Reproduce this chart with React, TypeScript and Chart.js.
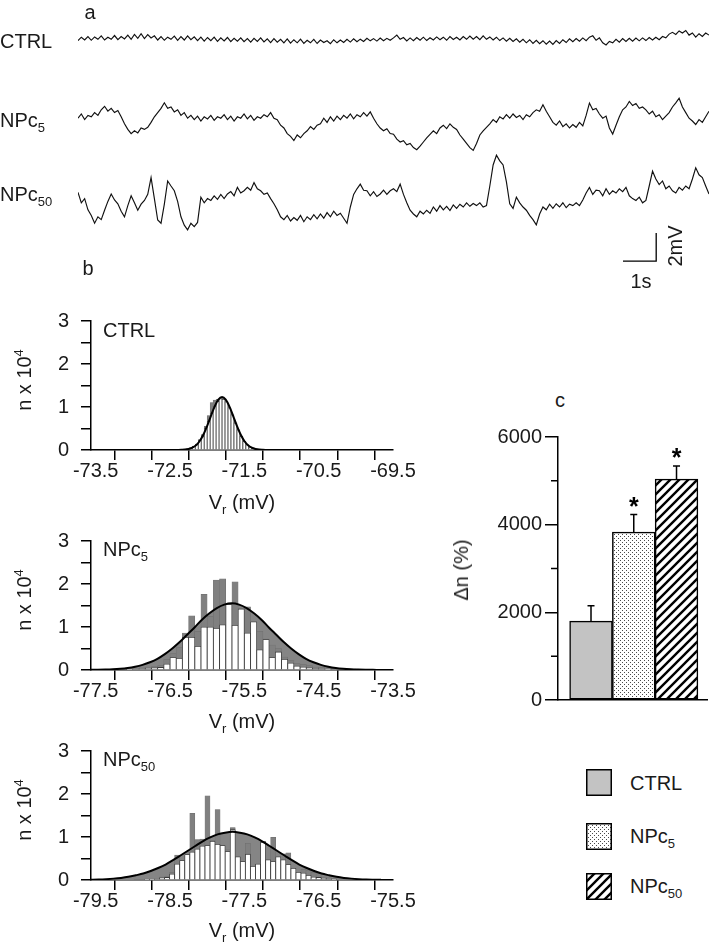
import React, { useEffect, useRef } from 'react';
import { Chart, registerables } from 'chart.js';

Chart.register(...registerables);

const FONT = '"Liberation Sans", Arial, Helvetica, sans-serif';
Chart.defaults.font.family = FONT;
Chart.defaults.font.size = 20;
Chart.defaults.color = '#1a1a1a';

// ---------------- Panel a : membrane potential traces (mV, sampled every 0.1 s) ----------------
const SAMPLE_DT = 0.1;
const TRACE_SECONDS = 19;

const TRACE_CTRL = [
  -0.05, 0.2, 0.0, 0.25, -0.02, 0.22, 0.05, 0.3, 0.0, 0.2,
  0.05, 0.32, 0.02, 0.25, 0.08, 0.35, 0.05, 0.4, 0.12, 0.45,
  0.1, 0.38, 0.15, 0.3, 0.0, 0.25, -0.02, 0.2, 0.05, 0.28,
  -0.02, 0.25, 0.0, 0.3, 0.02, 0.22, -0.05, 0.2, -0.08, 0.18,
  -0.05, 0.2, -0.1, 0.15, -0.06, 0.18, -0.12, 0.12, -0.08, 0.16,
  -0.12, 0.1, -0.15, 0.12, -0.1, 0.15, -0.14, 0.08, -0.18, 0.1,
  -0.15, 0.05, -0.2, 0.08, -0.22, 0.02, -0.2, 0.06, -0.24, -0.02,
  -0.2, 0.04, -0.25, 0.0, -0.18, -0.05, -0.26, 0.02, -0.2, 0.0,
  -0.18, 0.05, -0.15, 0.08, -0.12, 0.06, -0.1, 0.12, -0.06, 0.1,
  -0.08, 0.14, -0.05, 0.12, -0.02, 0.15, 0.35, 0.05, 0.18, -0.06,
  0.15, -0.05, 0.18, -0.02, 0.2, -0.04, 0.16, 0.0, 0.22, 0.02,
  0.2, -0.02, 0.24, 0.04, 0.2, 0.0, 0.25, 0.05, 0.28, 0.06,
  0.25, 0.02, 0.3, 0.05, 0.22, 0.0, 0.2, -0.04, 0.15, -0.08,
  0.12, -0.1, 0.08, -0.16, 0.05, -0.2, 0.02, -0.24, -0.02, -0.26,
  -0.05, -0.3, -0.08, -0.32, -0.04, -0.25, 0.02, -0.18, 0.08, -0.12,
  0.1, -0.08, 0.15, -0.05, 0.2, 0.3, -0.02, 0.15, -0.2, -0.35,
  -0.1, -0.2, 0.05, -0.15, 0.1, -0.1, 0.12, -0.08, 0.14, -0.06,
  0.15, -0.04, 0.18, 0.0, 0.2, 0.02, 0.25, 0.15, 0.42, 0.55,
  0.4, 0.65, 0.5, 0.68, 0.35, 0.5, 0.2, 0.45, 0.25, 0.5,
  0.35,
];

const TRACE_NPC5 = [
  0.2, 0.5, 0.1, 0.4, 0.3, 0.6, 0.4, 0.8, 1.05, 0.7,
  0.9, 0.6, 0.75, 0.3, -0.2, -0.6, -0.9, -0.7, -0.85, -0.5,
  -0.6, -0.45, -0.1, 0.3, 0.6, 0.9, 1.3, 0.9, 1.0, 0.65,
  0.8, 0.4, 0.6, 0.2, 0.4, 0.1, 0.35, 0.0, 0.3, 0.15,
  0.4, 0.05, 0.3, 0.2, 0.45, 0.1, 0.35, 0.0, 0.3, 0.2,
  0.5, 0.15, 0.4, 0.05, 0.3, 0.2, 0.45, 0.3, 0.6, 0.2,
  0.1, -0.3, -0.5, -0.9, -1.1, -1.4, -1.0, -1.2, -0.9, -0.7,
  -0.4, -0.6, -0.3, -0.2, 0.2, -0.1, 0.3, 0.0, 0.35, 0.1,
  0.4, 0.2, 0.5, 0.15, 0.45, 0.3, 0.6, 0.35, 0.65, 0.2,
  -0.2, -0.5, -0.7, -0.55, -0.9, -0.95, -1.3, -1.5, -1.4, -1.7,
  -1.6, -1.9, -2.05, -1.8, -1.5, -1.2, -0.95, -0.7, -0.9, -0.5,
  -0.3, -0.55, -0.2, -0.45, -0.6, -1.0, -1.3, -1.6, -1.9, -2.1,
  -1.6, -1.0, -0.7, -0.45, -0.2, 0.1, -0.1, 0.3, 0.15, 0.45,
  0.2, 0.5, 0.25, 0.4, 0.1, 0.45, 0.3, 0.6, 0.8, 0.7,
  1.16, 0.7, 0.3, -0.1, -0.3, 0.0, -0.4, -0.2, -0.5, -0.25,
  -0.45, -0.1, -0.35, 0.4, 1.28, 0.8, 0.9, 0.5, 0.2, 0.35,
  -0.5, -0.93, -0.3, 0.3, 0.8, 1.0, 1.4, 1.1, 1.25, 0.9,
  1.0, 0.8, 0.5, 0.7, 0.3, 0.45, 0.1, 0.35, 0.6, 1.0,
  1.3, 1.63, 1.0, 0.6, 0.2, 0.0, -0.25, 0.1, -0.1, 0.3,
  0.7,
];

const TRACE_NPC50 = [
  1.05, 0.3, 0.6, -0.2, -0.6, -1.16, -0.7, -0.9, -0.23, 0.4,
  0.93, 0.5, 0.23, -0.3, -0.7, 0.1, 0.8, 0.3, -0.23, 0.2,
  0.47, 0.9, 2.1, 0.6, -0.93, -1.16, 0.2, 1.86, 1.5, 1.16,
  0.4, -0.7, -1.3, -1.63, -1.16, -1.4, -1.1, 0.7, 0.3, 0.6,
  0.47, 0.8, 0.55, 0.9, 0.6, 0.93, 1.1, 0.8, 1.4, 1.0,
  1.16, 1.4, 1.2, 1.74, 1.3, 1.16, 0.9, 1.0, 0.6, 0.23,
  -0.2, -0.7, -0.9, -0.6, -1.0, -0.75, -0.95, -0.6, -1.05, -0.7,
  -0.9, -0.55, -0.85, -0.5, -0.8, -0.4, -0.7, -0.3, -0.6, -0.45,
  -0.8, -1.16, 0.0, 0.9, 1.3, 1.63, 1.2, 1.16, 0.8, 1.1,
  0.75, 0.93, 1.2, 0.9, 1.16, 1.3, 1.1, 1.63, 0.9, 0.3,
  -0.23, -0.5, -0.7, -0.3, -0.5, -0.23, -0.45, 0.0, -0.3, 0.1,
  -0.2, 0.05, -0.25, 0.15, -0.1, 0.2, 0.0, 0.3, 0.05, 0.25,
  0.1, 0.3, 0.0, 0.1, 1.5, 3.0, 3.7, 3.3, 3.0, 1.8,
  0.23, -0.1, 0.7, 0.3, 0.0, -0.23, -0.6, -0.9, -1.28, -0.5,
  0.0, -0.2, 0.2, -0.1, 0.23, 0.0, 0.3, -0.05, 0.2, 0.1,
  0.3, 0.1, 0.5, 1.0, 1.4, 0.9, 1.2, 1.16, 0.8, 1.3,
  0.9, 1.16, 1.0, 1.3, 1.1, 1.4, 0.8, 0.6, 0.47, 0.7,
  0.3, 0.47, 1.5, 2.56, 2.0, 1.6, 1.86, 1.3, 1.5, 1.16,
  1.0, 1.4, 1.2, 1.5, 1.3, 2.0, 2.8, 2.3, 2.1, 1.5,
  0.93,
];

const SCALE_BAR = { t0: 16.41, seconds: 1, v0: -3.86, mv: 2 };

// ---------------- Panel b : histograms (n x 10^4 per bin of Vr, mV) ----------------
const HIST_Y_TICKS = [0, 0.5, 1, 1.5, 2, 2.5, 3];
const HIST_Y_LABELS = [0, 1, 2, 3];

const CTRL_X_TICKS = [-73.5, -73, -72.5, -72, -71.5, -71, -70.5, -70, -69.5];
const CTRL_X_LABELS = [-73.5, -72.5, -71.5, -70.5, -69.5];
const CTRL_BINS = [-72.30, -72.26, -72.22, -72.18, -72.14, -72.10, -72.06, -72.02, -71.98, -71.94, -71.90, -71.86, -71.82, -71.78, -71.74, -71.70, -71.66, -71.62, -71.58, -71.54, -71.50, -71.46, -71.42, -71.38, -71.34, -71.30];
const CTRL_GRAY = [0.01, 0.03, 0.05, 0.09, 0.14, 0.24, 0.36, 0.55, 0.80, 1.10, 1.16, 1.18, 1.16, 1.20, 1.10, 0.96, 0.80, 0.62, 0.45, 0.31, 0.19, 0.11, 0.06, 0.03, 0.02, 0.01];
const CTRL_WHITE = [0.01, 0.02, 0.04, 0.08, 0.12, 0.22, 0.31, 0.50, 0.66, 0.86, 1.02, 1.13, 1.19, 1.18, 1.12, 0.98, 0.82, 0.63, 0.47, 0.32, 0.20, 0.12, 0.07, 0.04, 0.02, 0.01];
const CTRL_FIT_X = [-72.40, -72.35, -72.30, -72.25, -72.20, -72.15, -72.10, -72.05, -72.00, -71.95, -71.90, -71.85, -71.80, -71.75, -71.70, -71.65, -71.60, -71.55, -71.50, -71.45, -71.40, -71.35, -71.30, -71.25, -71.20];
const CTRL_FIT_Y = [0.001, 0.004, 0.009, 0.024, 0.054, 0.11, 0.21, 0.36, 0.56, 0.79, 1.01, 1.17, 1.23, 1.17, 1.01, 0.79, 0.56, 0.36, 0.21, 0.11, 0.054, 0.024, 0.009, 0.004, 0.001];

const NPC5_X_TICKS = [-77.5, -77, -76.5, -76, -75.5, -75, -74.5, -74, -73.5];
const NPC5_X_LABELS = [-77.5, -76.5, -75.5, -74.5, -73.5];
const NPC5_BINS = [-77.125, -77.042, -76.958, -76.875, -76.792, -76.708, -76.625, -76.542, -76.458, -76.375, -76.292, -76.208, -76.125, -76.042, -75.958, -75.875, -75.792, -75.708, -75.625, -75.542, -75.458, -75.375, -75.292, -75.208, -75.125, -75.042, -74.958, -74.875, -74.792, -74.708, -74.625, -74.542, -74.458, -74.375, -74.292, -74.208, -74.125, -74.042, -73.958];
const NPC5_GRAY = [0.01, 0.02, 0.03, 0.05, 0.07, 0.08, 0.10, 0.25, 0.38, 0.52, 0.86, 1.26, 0.90, 1.76, 1.25, 2.09, 2.12, 1.50, 2.05, 1.40, 1.47, 1.12, 0.90, 0.72, 0.58, 0.50, 0.30, 0.22, 0.15, 0.13, 0.10, 0.07, 0.06, 0.05, 0.04, 0.03, 0.02, 0.02, 0.01];
const NPC5_WHITE = [0.00, 0.01, 0.02, 0.03, 0.04, 0.05, 0.06, 0.14, 0.29, 0.27, 0.76, 0.76, 0.55, 1.00, 1.00, 0.97, 1.05, 1.52, 1.04, 1.42, 0.86, 1.12, 0.47, 0.71, 0.29, 0.42, 0.25, 0.16, 0.09, 0.07, 0.05, 0.03, 0.02, 0.01, 0.00, 0.00, 0.00, 0.00, 0.00];
const NPC5_FIT_X = [-77.67, -77.57, -77.47, -77.37, -77.27, -77.17, -77.07, -76.97, -76.87, -76.77, -76.67, -76.57, -76.47, -76.37, -76.27, -76.17, -76.07, -75.97, -75.87, -75.77, -75.67, -75.57, -75.47, -75.37, -75.27, -75.17, -75.07, -74.97, -74.87, -74.77, -74.67, -74.57, -74.47, -74.37, -74.27, -74.17, -74.07, -73.97, -73.87, -73.77, -73.67];
const NPC5_FIT_Y = [0.001, 0.003, 0.005, 0.009, 0.016, 0.028, 0.047, 0.077, 0.12, 0.18, 0.26, 0.37, 0.50, 0.65, 0.82, 0.99, 1.17, 1.32, 1.44, 1.52, 1.55, 1.52, 1.44, 1.32, 1.17, 0.99, 0.82, 0.65, 0.50, 0.37, 0.26, 0.18, 0.12, 0.077, 0.047, 0.028, 0.016, 0.009, 0.005, 0.003, 0.001];

const NPC50_X_TICKS = [-79.5, -79, -78.5, -78, -77.5, -77, -76.5, -76, -75.5];
const NPC50_X_LABELS = [-79.5, -78.5, -77.5, -76.5, -75.5];
const NPC50_BINS = [-78.948, -78.880, -78.812, -78.744, -78.676, -78.608, -78.540, -78.472, -78.404, -78.336, -78.268, -78.200, -78.132, -78.064, -77.996, -77.928, -77.860, -77.792, -77.724, -77.656, -77.588, -77.520, -77.452, -77.384, -77.316, -77.248, -77.180, -77.112, -77.044, -76.976, -76.908, -76.840, -76.772, -76.704, -76.636, -76.568, -76.500, -76.432, -76.364, -76.296, -76.228, -76.160];
const NPC50_GRAY = [0.01, 0.01, 0.02, 0.02, 0.03, 0.07, 0.08, 0.18, 0.58, 0.45, 0.59, 1.55, 0.94, 0.95, 1.96, 0.92, 1.64, 0.80, 0.70, 1.22, 0.54, 0.43, 0.85, 0.32, 0.37, 0.90, 0.47, 0.99, 0.54, 0.61, 0.63, 0.27, 0.18, 0.25, 0.22, 0.18, 0.16, 0.07, 0.05, 0.04, 0.03, 0.02];
const NPC50_WHITE = [0.00, 0.00, 0.01, 0.01, 0.02, 0.05, 0.06, 0.14, 0.37, 0.45, 0.59, 0.65, 0.72, 0.79, 0.80, 0.90, 0.83, 0.80, 0.66, 1.17, 0.54, 0.43, 0.60, 0.32, 0.37, 0.88, 0.47, 0.43, 0.54, 0.47, 0.36, 0.27, 0.18, 0.16, 0.11, 0.07, 0.06, 0.04, 0.02, 0.01, 0.00, 0.00];
const NPC50_FIT_X = [-79.66, -79.56, -79.46, -79.36, -79.26, -79.16, -79.06, -78.96, -78.86, -78.76, -78.66, -78.56, -78.46, -78.36, -78.26, -78.16, -78.06, -77.96, -77.86, -77.76, -77.66, -77.56, -77.46, -77.36, -77.26, -77.16, -77.06, -76.96, -76.86, -76.76, -76.66, -76.56, -76.46, -76.36, -76.26, -76.16, -76.06, -75.96, -75.86, -75.76, -75.66];
const NPC50_FIT_Y = [0.004, 0.0075, 0.012, 0.020, 0.032, 0.049, 0.074, 0.11, 0.15, 0.21, 0.28, 0.36, 0.46, 0.57, 0.68, 0.79, 0.90, 0.99, 1.06, 1.10, 1.12, 1.10, 1.06, 0.99, 0.90, 0.79, 0.68, 0.57, 0.46, 0.36, 0.28, 0.21, 0.15, 0.11, 0.074, 0.049, 0.032, 0.020, 0.012, 0.0075, 0.004];

// ---------------- Panel c : Δn (%) ----------------
const C_GROUPS = ['CTRL', 'NPc5', 'NPc50'];
const C_MEANS = [1800, 3830, 5040];
const C_SEM = [350, 400, 300];
const C_SIGNIF = [false, true, true];
const C_Y_TICKS = [0, 2000, 4000, 6000];
const C_Y_MINOR = [1000, 3000, 5000];

// ---------------- helpers ----------------
const AXIS = { color: '#000', width: 1.5 };

function makeDots() {
  const c = document.createElement('canvas');
  c.width = 4; c.height = 4;
  const g = c.getContext('2d')!;
  g.fillStyle = '#fff'; g.fillRect(0, 0, 4, 4);
  g.fillStyle = '#4a4a4a'; g.fillRect(0, 0, 1, 1); g.fillRect(2, 2, 1, 1);
  return g.createPattern(c, 'repeat');
}

function makeHatch() {
  const s = 9;
  const c = document.createElement('canvas');
  c.width = s; c.height = s;
  const g = c.getContext('2d')!;
  g.fillStyle = '#fff'; g.fillRect(0, 0, s, s);
  g.strokeStyle = '#000'; g.lineWidth = 2.4;
  g.beginPath();
  g.moveTo(-1, s + 1); g.lineTo(s + 1, -1);
  g.moveTo(-1, 1); g.lineTo(1, -1);
  g.moveTo(s - 1, s + 1); g.lineTo(s + 1, s - 1);
  g.stroke();
  return g.createPattern(c, 'repeat');
}

function traceConfig(values: number[], yMin: number, yMax: number, plugins: any[] = []) {
  return {
    type: 'line',
    data: {
      datasets: [{
        data: values.map((v, i) => ({ x: i * SAMPLE_DT, y: v })),
        borderColor: '#101010', borderWidth: 1.15, pointRadius: 0, tension: 0, fill: false,
      }],
    },
    options: {
      animation: false, responsive: false, events: [],
      layout: { padding: 0 },
      plugins: { legend: { display: false }, tooltip: { enabled: false } },
      scales: {
        x: { type: 'linear', display: false, min: 0, max: TRACE_SECONDS },
        y: { display: false, min: yMin, max: yMax },
      },
    },
    plugins,
  };
}

const scaleBarPlugin = {
  id: 'scaleBar',
  afterDatasetsDraw(chart: any) {
    const { ctx, scales } = chart;
    const x0 = scales.x.getPixelForValue(SCALE_BAR.t0);
    const x1 = scales.x.getPixelForValue(SCALE_BAR.t0 + SCALE_BAR.seconds);
    const y0 = scales.y.getPixelForValue(SCALE_BAR.v0);
    const y1 = scales.y.getPixelForValue(SCALE_BAR.v0 + SCALE_BAR.mv);
    ctx.save();
    ctx.strokeStyle = '#000'; ctx.lineWidth = 1.3;
    ctx.beginPath(); ctx.moveTo(x0, y0); ctx.lineTo(x1, y0); ctx.lineTo(x1, y1); ctx.stroke();
    ctx.restore();
  },
};

function histConfig(bins: number[], gray: number[], white: number[], fitX: number[], fitY: number[], xTicks: number[], xLabels: number[]) {
  const pts = (xs: number[], ys: number[]) => xs.map((x, i) => ({ x, y: ys[i] }));
  const gridOpts = { drawOnChartArea: false, drawTicks: true, tickLength: 10, color: '#000', lineWidth: 1.5 };
  return {
    type: 'bar',
    data: {
      datasets: [
        { type: 'line', data: pts(fitX, fitY), borderColor: '#000', borderWidth: 2, pointRadius: 0, fill: false, cubicInterpolationMode: 'monotone', order: 0 },
        { type: 'bar', data: pts(bins, white), backgroundColor: '#ffffff', borderColor: '#3a3a3a', borderWidth: 0.8, grouped: false, categoryPercentage: 1, barPercentage: 1, order: 1 },
        { type: 'bar', data: pts(bins, gray), backgroundColor: '#808080', borderColor: '#6c6c6c', borderWidth: 0.5, grouped: false, categoryPercentage: 1, barPercentage: 1, order: 2 },
        { type: 'line', data: pts(fitX, fitY), borderColor: 'rgba(0,0,0,0)', borderWidth: 0, backgroundColor: '#858585', pointRadius: 0, fill: 'origin', cubicInterpolationMode: 'monotone', order: 3 },
      ],
    },
    options: {
      animation: false, responsive: false, events: [],
      layout: { padding: { top: 14, right: 30, left: 0, bottom: 0 } },
      plugins: { legend: { display: false }, tooltip: { enabled: false } },
      scales: {
        x: {
          type: 'linear', min: xTicks[0] - 0.063, max: xTicks[xTicks.length - 1], offset: false,
          afterBuildTicks: (s: any) => { s.ticks = xTicks.map((v) => ({ value: v })); },
          afterFit: (s: any) => { s.height = 40; },
          grid: gridOpts,
          border: { display: true, ...AXIS },
          ticks: { padding: -1, autoSkip: false, maxRotation: 0, callback: (v: number) => (xLabels.includes(v) ? v.toFixed(1) : '') },
        },
        y: {
          min: 0, max: 3,
          afterBuildTicks: (s: any) => { s.ticks = HIST_Y_TICKS.map((v) => ({ value: v })); },
          afterFit: (s: any) => { s.width = 91; },
          grid: gridOpts,
          border: { display: true, ...AXIS },
          ticks: { padding: 12, autoSkip: false, callback: (v: number) => (HIST_Y_LABELS.includes(v) ? String(v) : '') },
        },
      },
    },
  };
}

const errorBarPlugin = {
  id: 'errorBars',
  afterDatasetsDraw(chart: any) {
    const { ctx, scales } = chart;
    const meta = chart.getDatasetMeta(0);
    ctx.save();
    ctx.strokeStyle = '#000'; ctx.lineWidth = 1.5;
    ctx.fillStyle = '#000';
    ctx.font = `bold 25px ${FONT}`;
    ctx.textAlign = 'center'; ctx.textBaseline = 'alphabetic';
    meta.data.forEach((bar: any, i: number) => {
      const yTop = scales.y.getPixelForValue(C_MEANS[i] + C_SEM[i]);
      ctx.beginPath();
      ctx.moveTo(bar.x, bar.y); ctx.lineTo(bar.x, yTop);
      ctx.moveTo(bar.x - 3.5, yTop); ctx.lineTo(bar.x + 3.5, yTop);
      ctx.stroke();
      if (C_SIGNIF[i]) ctx.fillText('*', bar.x, yTop);
    });
    // minor ticks on y axis
    const left = chart.chartArea.left;
    ctx.beginPath();
    C_Y_MINOR.forEach((v) => {
      const y = scales.y.getPixelForValue(v);
      ctx.moveTo(left - 7, y); ctx.lineTo(left, y);
    });
    ctx.stroke();
    ctx.restore();
  },
};

function barConfig() {
  return {
    type: 'bar',
    data: {
      datasets: [{
        data: C_GROUPS.map((g, i) => ({ x: i + 1, y: C_MEANS[i] })),
        backgroundColor: ['#c3c3c3', makeDots(), makeHatch()],
        borderColor: '#000', borderWidth: 1.5, borderSkipped: false,
        categoryPercentage: 1, barPercentage: 1,
      }],
    },
    options: {
      animation: false, responsive: false, events: [],
      layout: { padding: { top: 17, right: 2, left: 0, bottom: 20 } },
      plugins: { legend: { display: false }, tooltip: { enabled: false } },
      scales: {
        x: {
          type: 'linear', min: 0.228, max: 3.713, offset: false,
          afterBuildTicks: (s: any) => { s.ticks = C_GROUPS.map((_, i) => ({ value: i + 1 })); },
          afterFit: (s: any) => { s.height = 0; },
          grid: { drawOnChartArea: false, drawTicks: false },
          border: { display: true, ...AXIS },
          ticks: { display: false },
        },
        y: {
          min: 0, max: 6000,
          afterBuildTicks: (s: any) => { s.ticks = C_Y_TICKS.map((v) => ({ value: v })); },
          afterFit: (s: any) => { s.width = 98; },
          grid: { drawOnChartArea: false, drawTicks: true, tickLength: 13, color: '#000', lineWidth: 1.5 },
          border: { display: true, ...AXIS },
          ticks: { padding: 3, callback: (v: number) => String(v) },
        },
      },
    },
    plugins: [errorBarPlugin],
  };
}

// ---------------- components ----------------
function ChartCanvas({ left, top, width, height, build }: any) {
  const ref = useRef<HTMLCanvasElement>(null);
  useEffect(() => {
    const chart = new Chart(ref.current as any, build());
    return () => chart.destroy();
  }, []);
  return <canvas ref={ref} width={width} height={height} style={{ position: 'absolute', left, top, width, height }} />;
}

function Label({ x, y, children, align = 'left', rotate = false }: any) {
  const style: React.CSSProperties = {
    position: 'absolute', left: x, top: y, fontSize: 20, lineHeight: '24px', whiteSpace: 'nowrap',
  };
  if (rotate) style.transform = 'translate(-50%, -50%) rotate(-90deg)';
  else if (align === 'center') style.transform = 'translate(-50%, -50%)';
  else style.transform = 'translateY(-50%)';
  return <div style={style}>{children}</div>;
}

const Sub = ({ children }: any) => <span style={{ fontSize: 13, position: 'relative', top: 5 }}>{children}</span>;
const Sup = ({ children }: any) => <span style={{ fontSize: 13, position: 'relative', top: -8 }}>{children}</span>;

function Swatch({ left, top, kind }: any) {
  const ref = useRef<HTMLCanvasElement>(null);
  useEffect(() => {
    const g = ref.current!.getContext('2d')!;
    g.clearRect(0, 0, 26, 27);
    g.fillStyle = (kind === 'gray' ? '#c3c3c3' : kind === 'dots' ? makeDots() : makeHatch()) as any;
    g.fillRect(0, 0, 26, 27);
    g.strokeStyle = '#000'; g.lineWidth = 1.5;
    g.strokeRect(0.75, 0.75, 24.5, 25.5);
  }, []);
  return <canvas ref={ref} width={26} height={27} style={{ position: 'absolute', left, top }} />;
}

export default function App() {
  return (
    <div style={{ position: 'absolute', left: 0, top: 0, width: 709, height: 946, overflow: 'hidden', background: '#fff', fontFamily: FONT, color: '#1a1a1a' }}>
      {/* panel a */}
      <ChartCanvas left={78} top={20} width={631} height={40} build={() => traceConfig(TRACE_CTRL, -1.4286, 1.4286)} />
      <ChartCanvas left={78} top={90} width={631} height={70} build={() => traceConfig(TRACE_NPC5, -2.786, 2.214)} />
      <ChartCanvas left={78} top={140} width={631} height={130} build={() => traceConfig(TRACE_NPC50, -4.5, 4.786, [scaleBarPlugin])} />
      <Label x={90} y={12} align="center">a</Label>
      <Label x={0} y={41}>CTRL</Label>
      <Label x={0} y={121}>NPc<Sub>5</Sub></Label>
      <Label x={0} y={195}>NPc<Sub>50</Sub></Label>
      <Label x={641} y={281} align="center">1s</Label>
      <Label x={675} y={246} rotate>2mV</Label>

      {/* panel b */}
      <Label x={88} y={268} align="center">b</Label>
      <ChartCanvas left={0} top={297} width={423} height={193} build={() => histConfig(CTRL_BINS, CTRL_GRAY, CTRL_WHITE, CTRL_FIT_X, CTRL_FIT_Y, CTRL_X_TICKS, CTRL_X_LABELS)} />
      <ChartCanvas left={0} top={517} width={423} height={193} build={() => histConfig(NPC5_BINS, NPC5_GRAY, NPC5_WHITE, NPC5_FIT_X, NPC5_FIT_Y, NPC5_X_TICKS, NPC5_X_LABELS)} />
      <ChartCanvas left={0} top={727} width={423} height={193} build={() => histConfig(NPC50_BINS, NPC50_GRAY, NPC50_WHITE, NPC50_FIT_X, NPC50_FIT_Y, NPC50_X_TICKS, NPC50_X_LABELS)} />
      <Label x={103} y={330}>CTRL</Label>
      <Label x={103} y={550}>NPc<Sub>5</Sub></Label>
      <Label x={103} y={760}>NPc<Sub>50</Sub></Label>
      <Label x={25} y={380} rotate>n x 10<Sup>4</Sup></Label>
      <Label x={25} y={600} rotate>n x 10<Sup>4</Sup></Label>
      <Label x={25} y={810} rotate>n x 10<Sup>4</Sup></Label>
      <Label x={242} y={503} align="center">V<Sub>r</Sub> (mV)</Label>
      <Label x={242} y={722} align="center">V<Sub>r</Sub> (mV)</Label>
      <Label x={242} y={931} align="center">V<Sub>r</Sub> (mV)</Label>

      {/* panel c */}
      <Label x={560} y={400} align="center">c</Label>
      <ChartCanvas left={460} top={420} width={249} height={300} build={barConfig} />
      <Label x={461} y={570} rotate>Δn (%)</Label>

      {/* legend */}
      <Swatch left={586} top={769} kind="gray" />
      <Swatch left={586} top={823} kind="dots" />
      <Swatch left={586} top={873} kind="hatch" />
      <Label x={630} y={783}>CTRL</Label>
      <Label x={630} y={837}>NPc<Sub>5</Sub></Label>
      <Label x={630} y={887}>NPc<Sub>50</Sub></Label>
    </div>
  );
}
